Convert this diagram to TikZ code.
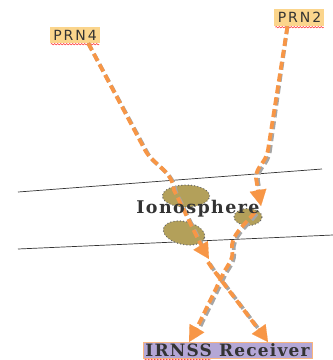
\documentclass[tikz,border=0pt]{standalone}
\usepackage{fontspec}
\setmainfont{DejaVu Serif}
\newfontfamily\labfont[LetterSpace=14]{DejaVu Sans}
\newfontfamily\ionofont[LetterSpace=8]{DejaVu Serif Bold}
\newfontfamily\rxfont[LetterSpace=7]{DejaVu Serif Bold}
\usetikzlibrary{arrows.meta,shapes.geometric,decorations.pathmorphing}
\definecolor{sig}{HTML}{F79646}
\definecolor{blobc}{HTML}{B3A05A}
\definecolor{labfill}{HTML}{FBD58C}
\definecolor{rxfill}{HTML}{B4A7D6}
\tikzset{
  sat/.style={fill=labfill, inner xsep=1.5pt, inner ysep=1pt, font=\labfont\fontsize{14}{14}\selectfont, text=black!80},
  rxbox/.style={fill=rxfill, draw=sig!70, line width=0.6pt, inner xsep=1pt, inner ysep=0.5pt, font=\rxfont\fontsize{17}{17}\selectfont, text=black!80},
  blob/.style={ellipse, fill=blobc, draw=gray!80!black, line width=1.4pt, dash pattern=on 0.01pt off 3.2pt, line cap=round, inner sep=0pt},
  layer/.style={line width=0.7pt, black!80},
  ray/.style={draw=sig, line width=3.8pt, dash pattern=on 8pt off 4pt},
  rayshadow/.style={draw=gray!70, line width=3.8pt, dash pattern=on 8pt off 4pt},
  tip/.style={-{Triangle[length=16pt,width=17pt]}},
  squiggle/.style={draw=red!80, line width=0.5pt, decorate, decoration={snake, amplitude=0.7pt, segment length=3pt}},
}
\begin{document}
\begin{tikzpicture}[x=1pt,y=-1pt]
\useasboundingbox (0,0) rectangle (333,360);
% ionosphere layers
\coordinate (u1) at (18,192); \coordinate (u2) at (322,169);
\coordinate (l1) at (18,249); \coordinate (l2) at (333,235);
\draw[layer] (u1) -- (u2);
\draw[layer] (l1) -- (l2);
% irregularities
\node[blob, minimum width=47pt, minimum height=22pt] (b1) at (186,196) {};
\node[blob, minimum width=42pt, minimum height=23pt, rotate=-12] (b2) at (184,233) {};
\node[blob, minimum width=28pt, minimum height=17pt] (b3) at (248,217) {};
% labels
\node[sat, minimum width=50pt, minimum height=16pt] (prn4) at (75,35) {PRN4};
\node[sat, minimum width=50pt, minimum height=17pt] (prn2) at (299.5,17.5) {PRN2};
\node[rxbox, minimum width=169pt, minimum height=16pt] (rx) at (227.5,350) {IRNSS Receiver};
\draw[squiggle] ([xshift=1pt,yshift=-1pt]prn4.south west) -- ([xshift=-1pt,yshift=-1pt]prn4.south east);
\draw[squiggle] ([xshift=1pt,yshift=-1pt]prn2.south west) -- ([xshift=-1pt,yshift=-1pt]prn2.south east);
\draw[squiggle] ([xshift=2pt,yshift=-1.5pt]rx.south west) -- ([xshift=68pt,yshift=-1.5pt]rx.south west);
% ray coordinates
\coordinate (a4) at (209,259);
\coordinate (a2) at (261,206);
\coordinate (r4) at (268,342);
\coordinate (r2) at (189,342);
% shadows
\begin{scope}[shift={(1.8,1.8)}]
\draw[rayshadow] (prn4.south east) ++(-12,0) -- (145,150) .. controls (153,165) and (172,170) .. (174,190) -- (197,237) -- (205,252);
\draw[rayshadow] (prn2.south) ++(-12,0) -- (268,150) .. controls (266,163) and (256,166) .. (256,178) -- (259,196);
\draw[rayshadow] (208,262) -- (212,268) -- (262,334);
\draw[rayshadow] (255,212) .. controls (245,225) and (230,235) .. (232,250) .. controls (234,258) and (228,265) .. (224,272) -- (194,334);
\end{scope}
% rays
\draw[ray] (prn4.south east) ++(-12,0) -- (145,150) .. controls (153,165) and (172,170) .. (174,190) -- (197,237) -- (205,252);
\draw[ray] (prn2.south) ++(-12,0) -- (268,150) .. controls (266,163) and (256,166) .. (256,178) -- (259,196);
\draw[ray] (208,262) -- (212,268) -- (262,334);
\draw[ray] (255,212) .. controls (245,225) and (230,235) .. (232,250) .. controls (234,258) and (228,265) .. (224,272) -- (194,334);
% arrow heads
\draw[tip, draw=sig, fill=sig, line width=0.1pt] (201,246) -- (a4);
\draw[tip, draw=sig, fill=sig, line width=0.1pt] (258,190) -- (a2);
\draw[tip, draw=sig, fill=sig, line width=0.1pt] (258,328) -- (r4);
\draw[tip, draw=sig, fill=sig, line width=0.1pt] (197,328) -- (r2);
% ionosphere label
\node[font=\ionofont\fontsize{17.5}{17.5}\selectfont, text=black!80, inner sep=0pt] (iono) at (198,209) {Ionosphere};
\end{tikzpicture}
\end{document}
